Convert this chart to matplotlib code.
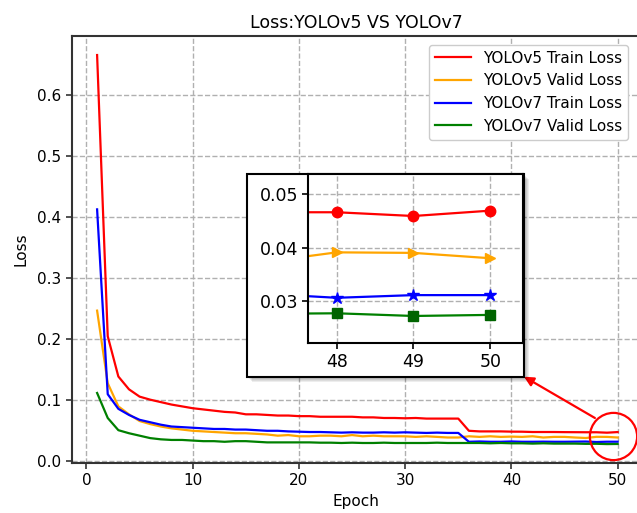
import numpy as np
import matplotlib
matplotlib.use("Agg")
import matplotlib.pyplot as plt
from matplotlib.patches import Rectangle

# Per-epoch losses
epochs = list(range(1, 51))

yolov5_train = [
    0.665, 0.204, 0.138, 0.117, 0.105, 0.100, 0.096, 0.092, 0.089, 0.086,
    0.084, 0.082, 0.080, 0.079, 0.076, 0.076, 0.075, 0.074, 0.074, 0.073,
    0.073, 0.072, 0.072, 0.072, 0.072, 0.071, 0.071, 0.070, 0.070, 0.0695,
    0.070, 0.069, 0.069, 0.069, 0.069, 0.049, 0.048, 0.048, 0.048, 0.0476,
    0.0475, 0.047, 0.047, 0.047, 0.0468, 0.0467, 0.0466, 0.0466, 0.0459, 0.0469,
]
yolov5_valid = [
    0.246, 0.127, 0.089, 0.076, 0.065, 0.060, 0.056, 0.053, 0.051, 0.049,
    0.048, 0.047, 0.046, 0.045, 0.045, 0.044, 0.043, 0.041, 0.042, 0.040,
    0.040, 0.041, 0.041, 0.040, 0.042, 0.040, 0.041, 0.040, 0.040, 0.040,
    0.039, 0.040, 0.039, 0.038, 0.038, 0.040, 0.039, 0.040, 0.039, 0.0395,
    0.039, 0.040, 0.038, 0.039, 0.039, 0.038, 0.0372, 0.0391, 0.0390, 0.0380,
]
yolov7_train = [
    0.412, 0.109, 0.085, 0.075, 0.067, 0.063, 0.059, 0.056, 0.055, 0.054,
    0.053, 0.052, 0.052, 0.051, 0.051, 0.050, 0.049, 0.049, 0.048, 0.0475,
    0.047, 0.047, 0.0465, 0.046, 0.0465, 0.046, 0.046, 0.0465, 0.046, 0.0465,
    0.046, 0.0455, 0.046, 0.0455, 0.0455, 0.031, 0.0315, 0.031, 0.031, 0.0315,
    0.031, 0.031, 0.0312, 0.031, 0.031, 0.0312, 0.0314, 0.0306, 0.0311, 0.0311,
]
yolov7_valid = [
    0.111, 0.070, 0.050, 0.045, 0.041, 0.037, 0.035, 0.034, 0.034, 0.033,
    0.032, 0.032, 0.031, 0.032, 0.032, 0.031, 0.030, 0.030, 0.030, 0.030,
    0.030, 0.0295, 0.0295, 0.029, 0.0295, 0.029, 0.029, 0.0295, 0.029, 0.029,
    0.029, 0.029, 0.0295, 0.029, 0.029, 0.029, 0.029, 0.0285, 0.029, 0.0285,
    0.0285, 0.028, 0.0285, 0.028, 0.028, 0.028, 0.0276, 0.0277, 0.0272, 0.0274,
]

series = [
    ("YOLOv5 Train Loss", yolov5_train, "red", "red", "o"),
    ("YOLOv5 Valid Loss", yolov5_valid, "orange", "orange", ">"),
    ("YOLOv7 Train Loss", yolov7_train, "blue", "blue", "*"),
    ("YOLOv7 Valid Loss", yolov7_valid, "green", "darkgreen", "s"),
]

zoom_epochs = [48, 49, 50]
inset_yticks = [0.03, 0.04, 0.05]

plt.rcParams["font.family"] = ["DejaVu Sans"]

W, H = 637, 513
fig = plt.figure(figsize=(W / 100, H / 100), dpi=100)

# main axes (right spine sits just past the figure edge)
ax = fig.add_axes([71.5 / W, 50 / H, (641 - 71.5) / W, (463 - 36.3) / H])
ax.set_zorder(0)
for label, vals, color, _, _ in series:
    ax.plot(epochs, vals, color=color, lw=1.6, label=label)

ax.set_xlim(-1.41, 52.2)
ax.set_ylim(-0.0038, 0.6957)
ax.set_xticks([0, 10, 20, 30, 40, 50])
ax.set_yticks([0.0, 0.1, 0.2, 0.3, 0.4, 0.5, 0.6])
ax.grid(True, linestyle="--", color="#b0b0b0", lw=1.0)
ax.tick_params(labelsize=11, length=4, width=1.2, color="#333333")
for s in ax.spines.values():
    s.set_color("#333333")
    s.set_linewidth(1.5)
ax.set_xlabel("Epoch", fontsize=11)
ax.set_ylabel("Loss", fontsize=11, labelpad=6)
ax.set_title("Loss:YOLOv5 VS YOLOv7", fontsize=12.5)
ax.legend(loc="upper right", bbox_to_anchor=(636.5 / W, 1 - 36.3 / H),
          bbox_transform=fig.transFigure, fontsize=11, handlelength=2.3,
          borderaxespad=0.55, framealpha=1.0, edgecolor="#cccccc")

# highlight circle around the last epochs
ax.plot([49.6], [0.0405], marker="o", ms=34, mfc="none", mec="red",
        mew=1.6, clip_on=False, zorder=5)

# framed box holding the zoomed view, with a soft shadow
box_l, box_b = 246.7 / W, (H - 376.7) / H
box_w, box_h = (524 - 246.7) / W, (376.7 - 174.3) / H
for k in range(1, 6):
    fig.add_artist(Rectangle((box_l + k / W, box_b - k / H), box_w, box_h,
                             transform=fig.transFigure, facecolor="black",
                             edgecolor="none", alpha=0.07, zorder=1))
fig.add_artist(Rectangle((box_l, box_b), box_w, box_h,
                         transform=fig.transFigure, facecolor="white",
                         edgecolor="black", lw=1.5, zorder=1.1))

# arrow from the circle to the box corner
ax.annotate("", xy=(box_l + box_w, box_b), xycoords="figure fraction",
            xytext=(47.86, 0.070), textcoords="data",
            arrowprops=dict(arrowstyle="-|>", color="red", lw=1.6,
                            mutation_scale=14, shrinkA=0, shrinkB=0),
            zorder=6)

# zoomed inset
axins = fig.add_axes([308.3 / W, (H - 342.7) / H, (523.3 - 308.3) / W,
                      (342.7 - 174.3) / H])
axins.set_zorder(2)
for label, vals, color, mcolor, marker in series:
    axins.plot(epochs, vals, color=color, lw=1.6, zorder=2)
    axins.plot(zoom_epochs, [vals[e - 1] for e in zoom_epochs],
               linestyle="none", marker=marker, color=mcolor,
               ms=9 if marker == "*" else 7.5 if marker != "s" else 7,
               zorder=3)
axins.set_xlim(47.63, 50.43)
axins.set_ylim(0.0222, 0.0537)
axins.set_xticks(zoom_epochs)
axins.set_yticks(inset_yticks)
axins.set_yticklabels([f"{v:.2f}" for v in inset_yticks])
axins.grid(True, linestyle="--", color="#b0b0b0", lw=1.0)
axins.tick_params(labelsize=12.5, length=4, width=1.2)
for s in axins.spines.values():
    s.set_color("black")
    s.set_linewidth(1.5)

fig.savefig("out.png", dpi=100)
